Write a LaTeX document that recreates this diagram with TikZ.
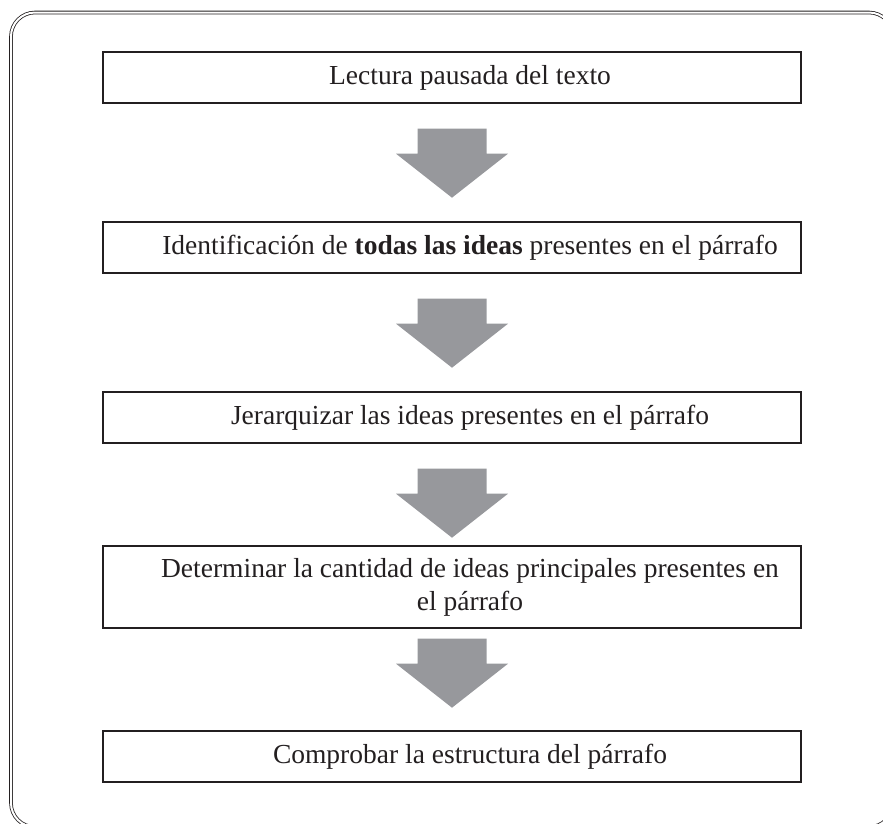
\documentclass[tikz,border=0pt]{standalone}
\usepackage{fontspec}
\setmainfont{Liberation Serif}
\usetikzlibrary{positioning}
\definecolor{tinta}{HTML}{231F20}
\definecolor{flechagris}{HTML}{97989C}

\begin{document}
\begin{tikzpicture}[x=1pt,y=-1pt,
  paso/.style={draw=tinta,line width=1.4pt,minimum width=698pt,minimum height=51pt,inner sep=0pt},
  texto/.style={text=tinta,font=\fontsize{27.5}{33}\selectfont,align=center,inner sep=0pt},
  flecha/.pic={\fill[flechagris] (-34.5,0) -- (34.5,0) -- (34.5,25) -- (56,25) -- (0,69) -- (-56,25) -- (-34.5,25) -- cycle;}]
\useasboundingbox (0,0) rectangle (883,823);
\draw[tinta,line width=0.8pt,double=white,double distance=2pt,rounded corners=24pt] (11,12.5) rectangle (893,827);

\node[paso] (b1) at (452,77.5) {};
\node[texto] (t1) at ([xshift=18pt]b1.center) {Lectura pausada del texto};

\node[paso] (b2) at (452,247.5) {};
\node[texto] (t2) at ([xshift=18pt]b2.center) {Identificación de \textbf{todas las ideas} presentes en el párrafo};

\node[paso] (b3) at (452,417.5) {};
\node[texto] (t3) at ([xshift=18pt]b3.center) {Jerarquizar las ideas presentes en el párrafo};

\node[paso,minimum height=82pt] (b4) at (452,587) {};
\node[texto] (t4) at ([xshift=18pt]b4.center) {Determinar la cantidad de ideas principales presentes en\\el párrafo};

\node[paso] (b5) at (452,756.5) {};
\node[texto] (t5) at ([xshift=18pt]b5.center) {Comprobar la estructura del párrafo};

\pic at ([yshift=-25pt]b1.south) {flecha};
\pic at ([yshift=-25pt]b2.south) {flecha};
\pic at ([yshift=-25pt]b3.south) {flecha};
\pic at ([yshift=-10pt]b4.south) {flecha};
\end{tikzpicture}
\end{document}
